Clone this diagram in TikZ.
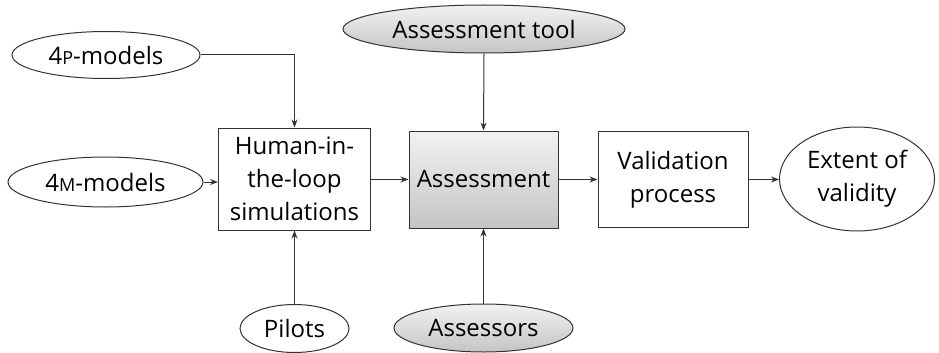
\documentclass[tikz,border=0pt]{standalone}
\usepackage{fontspec}
\setmainfont{Open Sans}
\usetikzlibrary{shapes.geometric,arrows.meta}
\definecolor{linec}{HTML}{333333}
\definecolor{gtop}{HTML}{F2F2F2}
\definecolor{gbot}{HTML}{C4C4C4}
\newcommand{\fsc}[1]{{\fontsize{18}{20}\selectfont #1}}
\tikzset{
  every node/.style={font=\fontsize{24}{33}\selectfont, text=black, inner sep=0pt, align=center},
  ell/.style={ellipse, draw=linec, line width=1pt},
  gell/.style={ell, top color=gtop, bottom color=gbot},
  pbox/.style={rectangle, draw=linec, line width=1pt},
  gbox/.style={pbox, top color=gtop, bottom color=gbot},
  conn/.style={draw=linec, line width=1pt, -{Stealth[length=8pt,width=6pt]}}
}
\begin{document}
\begin{tikzpicture}[x=1pt,y=-1pt]
\useasboundingbox (0,0) rectangle (939,353);
\node[ell, minimum width=188pt, minimum height=47pt] (p4) at (106,55) {4\fsc{P}-models};
\node[ell, minimum width=195pt, minimum height=50pt] (m4) at (105.5,182) {4\fsc{M}-models};
\node[pbox, minimum width=152pt, minimum height=102pt] (hil) at (294.5,179) {Human-in-\\the-loop\\simulations};
\node[gell, minimum width=282pt, minimum height=48pt] (tool) at (484,29) {Assessment tool};
\node[gbox, minimum width=149pt, minimum height=97pt] (ass) at (483.5,179.5) {Assessment};
\node[pbox, minimum width=150pt, minimum height=96pt] (val) at (673,179.5) {Validation\\process};
\node[ell, minimum width=155pt, minimum height=104pt] (ext) at (857,179) {Extent of\\validity};
\node[ell, minimum width=109pt, minimum height=48pt] (pil) at (294.5,328.5) {Pilots};
\node[gell, minimum width=179pt, minimum height=48pt] (asr) at (483.5,328) {Assessors};
\draw[conn] (p4.east) -| (hil.north);
\draw[conn] (m4.east) -- (m4.east -| hil.west);
\draw[conn] (pil.north) -- (hil.south);
\draw[conn] (hil.east |- ass.west) -- (ass.west);
\draw[conn] (tool.south) -- (ass.north);
\draw[conn] (asr.north) -- (ass.south);
\draw[conn] (ass.east) -- (val.west);
\draw[conn] (val.east) -- (val.east -| ext.west);
\end{tikzpicture}
\end{document}
